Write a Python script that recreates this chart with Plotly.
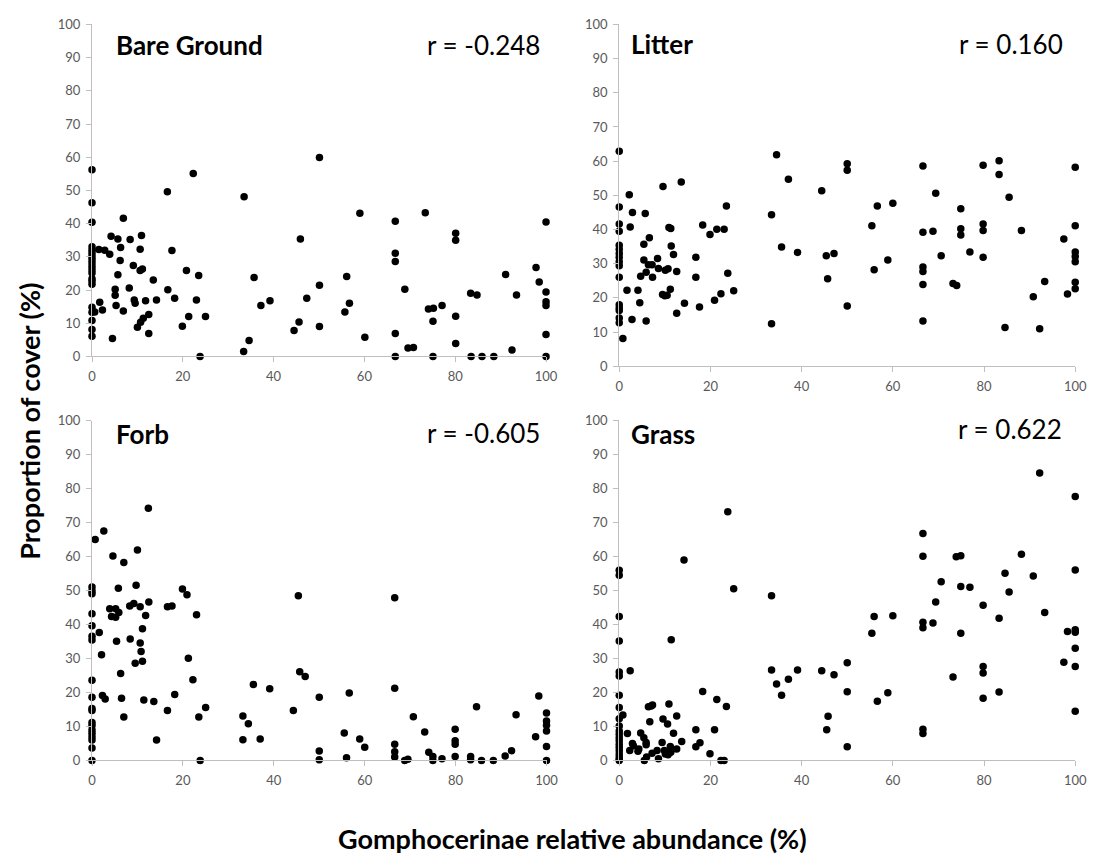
import plotly.graph_objects as go

W, H = 1103, 863

# ---------------- data ----------------
bare_x = [0]*20 + [0.6, 1.7, 2.3, 1.5, 2.8, 3.9, 4.2, 5.7, 6.9, 6.3, 6.2, 5.7, 5.1, 5.1, 5.3, 4.5, 6.9,
          8.4, 9.1, 8.2, 9.3, 9.5, 10.0, 10.6, 10.9, 10.6, 11.1, 10.7, 11.3, 12.5, 11.8, 12.5, 13.5, 14.2,
          16.6, 16.7, 17.6, 18.2, 19.9, 20.8, 21.3, 22.3, 23.0, 23.5, 23.8, 25.0, 33.5, 33.4, 34.6, 35.7,
          37.2, 39.2, 44.5, 45.6, 45.9, 47.3, 50.1, 50.1, 50.1, 56.1, 56.7, 55.7, 59.0, 60.1, 66.8, 66.8,
          66.8, 66.8, 66.8, 68.9, 69.6, 70.8, 73.4, 74.1, 75.2, 75.1, 75.1, 77.1, 80.1, 80.1, 80.1, 80.1,
          83.4, 84.8, 83.5, 85.9, 88.5, 91.1, 92.5, 93.5, 97.8, 98.5, 100, 100, 100, 100, 100, 100]
bare_y = [56.2, 46.3, 40.4, 33.0, 32.0, 31.0, 30.0, 29.1, 28.1, 27.1, 26.1, 25.1, 23.4, 22.7, 21.7, 14.8,
          13.3, 10.8, 8.1, 6.1,
          13.4, 16.3, 14.0, 32.2, 32.0, 30.8, 36.2, 35.4, 41.6, 32.8, 28.9, 24.6, 20.2, 18.4, 15.3, 5.4, 13.7,
          35.2, 27.4, 20.6, 17.0, 16.0, 8.8, 32.3, 36.4, 25.9, 26.3, 10.3, 11.5, 12.6, 16.8, 6.9, 23.0, 17.0,
          49.6, 20.1, 31.9, 17.5, 9.1, 25.9, 12.0, 55.1, 17.0, 24.4, 0.0, 12.0, 48.1, 1.5, 4.8, 23.8,
          15.3, 16.8, 7.8, 10.4, 35.4, 17.5, 59.9, 21.4, 9.0, 24.1, 16.0, 13.4, 43.1, 5.8, 40.7, 31.1,
          28.6, 6.9, 0.0, 20.2, 2.5, 2.7, 43.3, 14.3, 14.5, 10.6, 0.0, 15.3, 37.1, 35.0, 12.1, 3.9,
          19.0, 18.5, 0.0, 0.0, 0.0, 24.7, 1.9, 18.5, 26.8, 22.4, 40.5, 19.4, 16.5, 15.3, 6.6, 0.0]

litter_x = [0]*16 + [0.8, 1.7, 2.2, 2.4, 2.8, 2.9, 4.1, 4.5, 4.7, 5.4, 5.4, 5.7, 5.9, 5.9, 6.6, 6.4, 7.2,
            7.3, 8.4, 8.6, 9.5, 9.6, 10.0, 10.1, 10.7, 10.5, 10.9, 11.3, 11.2, 11.4, 11.9, 12.6, 12.6,
            13.6, 14.3, 16.8, 16.8, 17.6, 18.3, 19.9, 20.9, 21.4, 22.3, 23.0, 23.5, 23.8, 25.1, 33.4,
            33.4, 34.5, 35.6, 37.1, 39.1, 44.4, 45.4, 47.1, 45.7, 50.0, 50.0, 50.0, 55.4, 55.9, 56.6,
            58.9, 60.0, 66.6, 66.6, 66.6, 66.6, 66.6, 66.6, 68.8, 69.4, 70.6, 73.2, 74.0, 74.9, 74.9,
            74.9, 76.9, 79.8, 79.8, 79.8, 79.8, 83.3, 83.3, 84.6, 85.5, 88.2, 90.8, 92.2, 93.3, 97.5,
            98.3, 100, 100, 100, 100, 100, 100, 100]
litter_y = [62.9, 46.6, 41.6, 39.5, 35.4, 34.2, 33.0, 31.9, 30.6, 29.4, 26.0, 18.0, 17.0, 16.3, 14.1, 12.7,
            8.1, 22.2, 50.2, 40.7, 13.7, 45.0, 22.2, 18.6, 26.3, 35.7, 31.1, 44.7, 27.5, 13.2, 37.6, 29.7,
            29.7, 26.0, 31.5, 28.6, 21.0, 52.6, 20.6, 28.1, 28.5, 20.8, 40.6, 40.3, 22.5, 35.2, 32.7, 27.7,
            15.5, 53.9, 18.4, 31.9, 26.0, 17.3, 41.3, 38.5, 19.3, 40.1, 21.2, 40.1, 46.9, 27.2, 22.1, 44.3,
            12.4, 61.9, 34.9, 54.7, 33.3, 51.3, 32.3, 33.0, 25.6, 59.2, 57.3, 17.6, 41.1, 28.2, 46.9,
            31.1, 47.7, 58.6, 39.2, 29.0, 27.7, 23.9, 13.2, 39.5, 50.6, 32.3, 24.2, 23.6, 46.1, 40.2,
            38.4, 33.4, 58.8, 41.6, 39.7, 31.9, 60.1, 56.1, 11.3, 49.4, 39.7, 20.3, 11.0, 24.8, 37.2,
            21.1, 58.2, 41.1, 33.4, 32.1, 30.6, 24.6, 22.7]

forb_x = [0]*19 + [0.7, 1.6, 2.1, 2.3, 2.9, 2.6, 3.9, 4.3, 4.6, 5.2, 5.2, 5.4, 5.8, 5.9, 6.3, 6.5, 7.0,
          7.0, 8.3, 8.4, 9.2, 9.5, 9.7, 10.0, 10.6, 10.6, 10.8, 11.1, 11.1, 11.4, 11.8, 12.4, 12.5, 13.6,
          14.2, 16.6, 16.6, 17.6, 18.2, 19.9, 20.9, 21.2, 22.2, 23.0, 23.5, 23.8, 25.0, 33.2, 33.2, 34.4,
          35.5, 37.0, 39.1, 44.3, 45.4, 45.7, 46.9, 50.0, 50.0, 50.0, 55.5, 56.6, 56.0, 58.9, 60.0, 66.6,
          66.6, 66.6, 66.6, 66.6, 68.8, 69.5, 70.7, 73.2, 74.1, 75.0, 75.0, 77.0, 79.9, 79.9, 79.9, 79.9,
          83.3, 83.3, 84.6, 85.7, 88.3, 90.9, 92.3, 93.3, 97.6, 98.3, 100, 100, 100, 100, 100, 100]
forb_y = [51.1, 49.9, 49.1, 43.2, 39.7, 36.6, 35.5, 23.6, 18.6, 15.3, 14.7, 11.2, 10.3, 9.0, 8.0, 7.0, 6.0,
          3.7, 0.0,
          65.1, 37.7, 31.1, 19.1, 18.1, 67.6, 44.7, 42.4, 60.2, 44.7, 42.2, 35.1, 50.7, 43.6, 25.6, 18.3,
          58.3, 12.8, 45.5, 35.8, 46.2, 28.6, 51.6, 62.0, 45.3, 34.6, 32.1, 38.8, 29.2, 17.8, 42.7, 74.3,
          46.7, 17.4, 6.0, 14.7, 45.3, 45.5, 19.4, 50.5, 48.8, 30.1, 23.8, 42.9, 12.8, 0.0, 15.6, 13.1,
          6.1, 10.8, 22.4, 6.3, 21.1, 14.7, 48.5, 26.1, 24.7, 18.6, 2.8, 0.2, 8.1, 19.9, 0.8, 6.3, 3.9,
          47.9, 21.3, 4.8, 2.6, 1.0, 0.0, 0.4, 12.9, 8.4, 2.4, 1.2, 0.0, 0.5, 9.2, 5.8, 4.8, 1.2, 1.2,
          0.2, 15.8, 0.0, 0.0, 1.3, 2.9, 13.5, 7.0, 19.0, 14.0, 11.6, 10.4, 8.7, 4.1, 0.0]

grass_x = [0]*21 + [0.8, 1.8, 2.4, 2.3, 2.9, 3.1, 4.1, 4.3, 4.7, 5.4, 5.5, 5.9, 5.9, 6.0, 6.4, 6.7, 7.0,
           7.3, 7.2, 8.3, 8.6, 9.4, 9.6, 9.9, 10.1, 10.6, 10.9, 10.7, 11.2, 11.4, 11.3, 11.9, 12.6, 12.6,
           13.7, 14.2, 16.8, 16.8, 17.7, 18.3, 19.9, 20.9, 21.4, 22.3, 23.0, 23.5, 23.8, 25.1, 33.4, 33.4,
           34.5, 35.6, 37.1, 39.1, 44.4, 45.5, 45.8, 47.1, 50.0, 50.0, 50.0, 55.4, 55.9, 56.6, 58.9, 60.0,
           66.6, 66.6, 66.6, 66.6, 66.6, 66.6, 68.8, 69.4, 70.6, 73.2, 73.9, 74.9, 74.9, 74.9, 76.9, 79.8,
           79.8, 79.8, 79.8, 83.3, 83.3, 84.6, 85.5, 88.2, 90.8, 92.2, 93.3, 97.5, 98.3, 100, 100, 100,
           100, 100, 100, 100]
grass_y = [55.9, 54.4, 42.3, 35.1, 26.0, 24.8, 19.2, 15.6, 12.3, 10.1, 8.7, 7.7, 6.7, 5.8, 4.8, 3.9, 2.9,
           1.9, 1.0, 0.0, 0.3,
           13.4, 7.9, 26.4, 2.9, 5.0, 4.3, 2.7, 3.4, 8.1, 6.7, 0.0, 5.3, 4.6, 1.0, 15.8, 11.4, 16.0, 16.3,
           2.1, 2.9, 0.5, 5.3, 12.2, 2.9, 1.9, 10.7, 16.6, 1.7, 4.1, 35.5, 2.4, 8.0, 13.1, 3.4, 5.6, 58.9,
           9.0, 4.0, 5.2, 20.3, 2.0, 9.0, 17.9, 0.0, 0.0, 15.9, 73.1, 50.5, 48.4, 26.6, 22.5, 19.2, 23.9,
           26.6, 26.4, 9.0, 13.0, 25.2, 28.7, 20.2, 4.0, 37.4, 42.3, 17.4, 19.9, 42.5, 66.7, 60.0, 40.6,
           39.0, 9.2, 7.9, 40.4, 46.6, 52.5, 24.5, 59.9, 60.2, 51.1, 37.4, 50.9, 45.6, 27.6, 25.7, 18.3,
           41.8, 20.1, 55.0, 49.5, 60.6, 54.2, 84.5, 43.5, 28.9, 37.9, 77.6, 56.0, 38.4, 37.7, 33.0,
           27.6, 14.5]

panel_names = ["Bare Ground", "Litter", "Forb", "Grass"]
r_labels = ["r = -0.248", "r = 0.160", "r = -0.605", "r = 0.622"]
x_ticks = [0, 20, 40, 60, 80, 100]
y_ticks = [0, 10, 20, 30, 40, 50, 60, 70, 80, 90, 100]
x_title = "Gomphocerinae relative abundance (%)"
y_title = "Proportion of cover (%)"

# ---------------- layout (pixel geometry) ----------------
boxes = [(89.3, 550.0, 16.7, 355.0),
         (624.3, 1087.0, 16.7, 365.0),
         (89.3, 550.5, 420.7, 766.7),
         (624.3, 1087.0, 420.0, 766.7)]
name_pos = [(112, 38), (634, 37), (112, 434), (634, 434)]
r_pos = [(546, 38), (1077, 37), (546, 433), (1076, 429)]

FONT = "Lato"
AX = "#BFBFBF"
TK = "#595959"

series = [(bare_x, bare_y), (litter_x, litter_y), (forb_x, forb_y), (grass_x, grass_y)]

fig = go.Figure()
layout = dict(width=W, height=H, margin=dict(l=0, r=0, t=0, b=0),
              paper_bgcolor="white", plot_bgcolor="white", showlegend=False,
              font=dict(family=FONT, color="black"))
annotations = []
for i, ((xs, ys), (l, r, t, b)) in enumerate(zip(series, boxes)):
    n = "" if i == 0 else str(i + 1)
    fig.add_trace(go.Scatter(x=xs, y=ys, mode="markers", xaxis="x" + n, yaxis="y" + n,
                             cliponaxis=False,
                             marker=dict(color="black", size=7.5, line=dict(width=0))))
    common = dict(showgrid=False, zeroline=False, showline=True, linecolor=AX, linewidth=1,
                  ticks="outside", ticklen=5, tickcolor=AX, tickwidth=1,
                  tickfont=dict(family=FONT, size=13, color=TK), range=[0, 100], fixedrange=True)
    layout["xaxis" + n] = dict(domain=[l / W, r / W], anchor="y" + n, tickvals=x_ticks,
                               ticklabelstandoff=3, **common)
    layout["yaxis" + n] = dict(domain=[1 - b / H, 1 - t / H], anchor="x" + n, tickvals=y_ticks,
                               ticklabelstandoff=3, **common)
    annotations.append(dict(text="<b>%s</b>" % panel_names[i], x=name_pos[i][0] / W,
                            y=1 - name_pos[i][1] / H, xref="paper", yref="paper",
                            xanchor="left", yanchor="middle", showarrow=False,
                            font=dict(family=FONT, size=26, color="black")))
    annotations.append(dict(text=r_labels[i], x=r_pos[i][0] / W, y=1 - r_pos[i][1] / H,
                            xref="paper", yref="paper", xanchor="right", yanchor="middle",
                            showarrow=False, font=dict(family=FONT, size=26, color="black")))

annotations.append(dict(text="<b>%s</b>" % x_title, x=577 / W, y=1 - 846 / H, xref="paper",
                        yref="paper", xanchor="center", yanchor="middle", showarrow=False,
                        font=dict(family=FONT, size=27, color="black")))
annotations.append(dict(text="<b>%s</b>" % y_title, x=26 / W, y=1 - 421 / H, xref="paper",
                        yref="paper", xanchor="center", yanchor="middle", showarrow=False,
                        textangle=-90, font=dict(family=FONT, size=27, color="black")))
layout["annotations"] = annotations
fig.update_layout(**layout)
fig.write_html("out.html")
